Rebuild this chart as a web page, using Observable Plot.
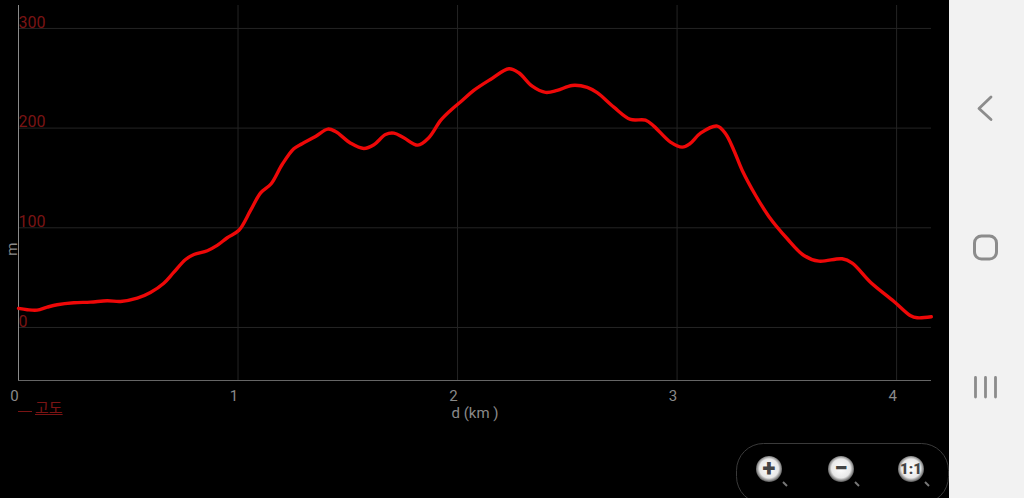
<!DOCTYPE html>
<html>
<head>
<meta charset="utf-8">
<script src="https://cdn.jsdelivr.net/npm/d3@7"></script>
<script src="https://cdn.jsdelivr.net/npm/@observablehq/plot@0.6"></script>
<style>
html,body{margin:0;padding:0;background:#000;width:1024px;height:498px;overflow:hidden}
#chart{position:absolute;left:0;top:0}
#chart svg{display:block;background:#000}
#nav{position:absolute;left:949px;top:0;width:75px;height:498px;background:#f2f2f2}
#legend{position:absolute;left:18px;top:401px;height:15px;font:15px Roboto,"Noto Sans CJK KR",sans-serif;color:#7a1414;line-height:14px;white-space:nowrap}
#legend i{display:inline-block;width:14px;height:1px;background:#7a1414;vertical-align:1px;margin-right:3px}
#legend u{text-decoration:underline}
#zoom{position:absolute;left:736px;top:443px;width:213px;height:55px}
</style>
</head>
<body>
<div id="chart"></div>
<div id="legend"><i></i><u>고도</u></div>
<svg id="zoom" viewBox="0 0 213 55" font-family="Roboto,sans-serif">
  <defs>
    <radialGradient id="lens" cx="50%" cy="48%" r="52%">
      <stop offset="0%" stop-color="#fff"/><stop offset="70%" stop-color="#e8e8e8"/><stop offset="100%" stop-color="#555"/>
    </radialGradient>
  </defs>
  <rect x="0.5" y="0.5" width="212" height="60" rx="27" fill="none" stroke="#3a3a3a"/>
  <g id="zoomButtons"></g>
</svg>
<div id="nav">
  <svg width="75" height="498" fill="none" stroke="#8c8c8c" stroke-linecap="round" stroke-linejoin="round">
    <path d="M42 97 L30 108.500 L42 119.500" stroke-width="2.800"/>
    <rect x="25.500" y="236" width="22" height="23" rx="7" stroke-width="3"/>
    <path d="M26.500 377.500V397M36.500 377.500V397M46.500 377.500V397" stroke-width="2.800"/>
  </svg>
</div>
<script>
const distanceKm = [0,0.040,0.085,0.131,0.176,0.252,0.328,0.404,0.465,0.541,0.601,0.662,0.708,0.761,0.799,0.860,0.905,0.951,1.004,1.057,1.103,1.151,1.201,1.254,1.292,1.353,1.409,1.444,1.513,1.573,1.619,1.672,1.710,1.755,1.819,1.869,1.923,1.968,2.021,2.074,2.150,2.234,2.279,2.340,2.401,2.454,2.522,2.591,2.636,2.712,2.788,2.856,2.894,2.970,3.024,3.058,3.107,3.183,3.221,3.259,3.297,3.358,3.418,3.502,3.578,3.646,3.752,3.798,3.881,3.988,4.064,4.094,4.158];
const elevationM = [19.1,17.8,17.4,20.4,22.8,24.8,25.4,26.8,26.1,29.4,35.1,44.4,55.5,68.2,73.2,77,82.3,90,97.5,117.4,135,144.2,163.5,179.3,184.3,191.6,199,196.6,184.9,179.6,183.3,193.6,194.9,190.3,182.9,190.3,207.7,217.7,227.7,237.8,248.8,259.6,255.5,242.1,235.8,237.8,242.8,240.8,235.5,221,208.7,208,202,185.9,180.9,184.3,194.9,202,194.3,177.6,157.5,132.4,111.4,89,72.2,66.5,68.9,64.5,45.4,26.1,11.7,9.7,10.7];
const xTicks = [0,1,2,3,4];
const yTicks = [0,100,200,300];
const xDomain = [0,4.159];
const yDomain = [-53.2,323];
const zoomLabels = ["+","−","1:1"];
const zoomCenters = [33,105,175];

const points = distanceKm.map((d,i)=>({d,h:elevationM[i]}));
const font = 'Roboto, "Noto Sans", sans-serif';

const plot = Plot.plot({
  width:1024, height:498,
  marginLeft:18, marginRight:93, marginTop:5, marginBottom:118,
  style:{background:"#000",fontFamily:font,fontSize:"15px"},
  x:{domain:xDomain},
  y:{domain:yDomain},
  marks:[
    Plot.gridX(xTicks.slice(1),{stroke:"#242424",strokeOpacity:1}),
    Plot.gridY(yTicks,{stroke:"#242424",strokeOpacity:1}),
    Plot.ruleX([0],{stroke:"#8a8a8a"}),
    Plot.ruleY([yDomain[0]],{stroke:"#666"}),
    Plot.axisX({ticks:xTicks,tickFormat:d3.format("d"),tickSize:0,tickPadding:10,dx:-4,fill:"#8a8a8a",fontSize:15,
      label:"d (km )",labelAnchor:"center",labelArrow:"none",labelOffset:37}),
    Plot.axisY({ticks:yTicks,tickSize:0,tickPadding:0,textAnchor:"start",dy:-6,fill:"#7a1414",fontSize:16,label:null}),
    Plot.text(["m"],{y:[72],frameAnchor:"left",dx:-6,rotate:-90,fill:"#8a8a8a",fontSize:15}),
    Plot.line(points,{x:"d",y:"h",stroke:"#ee0808",strokeWidth:3.4,curve:"catmull-rom"})
  ]
});
document.getElementById("chart").append(plot);

const g = d3.select("#zoomButtons");
zoomLabels.forEach((t,i)=>{
  const c = zoomCenters[i];
  g.append("line").attr("x1",c+14).attr("y1",39).attr("x2",c+18).attr("y2",43).attr("stroke","#777").attr("stroke-width",2);
  g.append("circle").attr("cx",c).attr("cy",26).attr("r",13).attr("fill","url(#lens)");
  g.append("text").attr("x",c).attr("y",i===2?31:33).attr("text-anchor","middle")
    .attr("font-weight",900).attr("font-size",i===2?15:24).attr("fill","#444").text(t);
});
</script>
</body>
</html>
